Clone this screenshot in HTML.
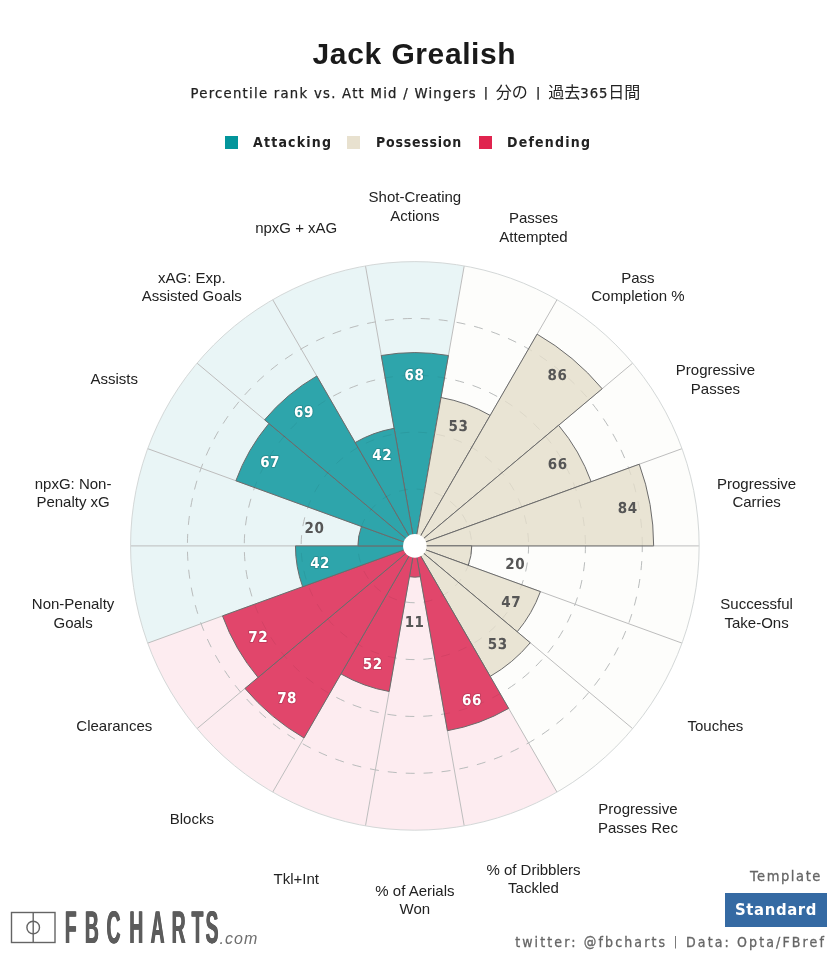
<!DOCTYPE html>
<html lang="en"><head><meta charset="utf-8"><title>Jack Grealish</title>
<style>
html,body{margin:0;padding:0;background:#fff;}
body{width:833px;height:957px;position:relative;overflow:hidden;font-family:"DejaVu Sans","Noto Sans CJK JP",sans-serif;}
.title{position:absolute;left:-2.1px;width:833px;top:34.1px;text-align:center;font:bold 30px/40px "Liberation Sans",sans-serif;letter-spacing:0.6px;word-spacing:0.75px;color:#1a1a1a;}
.sub{position:absolute;left:-1.1px;width:833px;top:83px;text-align:center;font-family:"DejaVu Sans Condensed","Noto Sans CJK JP",sans-serif;font-size:14.7px;line-height:20px;letter-spacing:1.27px;color:#222;-webkit-text-stroke:0.25px #222;white-space:nowrap;}
.leg{position:absolute;top:132px;height:20px;line-height:20px;font-family:"DejaVu Sans Condensed",sans-serif;font-weight:bold;font-size:14px;letter-spacing:1.2px;color:#222;white-space:nowrap;}
.sq{position:absolute;width:13px;height:13px;top:136px;}
svg text.v{font:bold 15px "DejaVu Sans Condensed",sans-serif;letter-spacing:0.55px;text-rendering:geometricPrecision;}
svg text.w{stroke:#000;stroke-opacity:0.13;stroke-width:2px;paint-order:stroke;stroke-linejoin:round;}
svg text.l{font:15px "Liberation Sans",sans-serif;fill:#222;}
svg text.fb{font:bold 45.8px "Liberation Sans",sans-serif;fill:#5c5c5c;text-rendering:geometricPrecision;text-shadow:0.9px 0 0 #5c5c5c,-0.9px 0 0 #5c5c5c;}
.com{position:absolute;left:219.6px;top:928.3px;font:italic 16px/22px "Liberation Sans",sans-serif;letter-spacing:1px;color:#6e6e6e;}
.bar{font-size:11.5px;font-weight:bold;vertical-align:1.2px;margin:0 0.5px;}
.cj{font-size:16px;letter-spacing:0;-webkit-text-stroke:0;}
.dg{letter-spacing:0.9px;}
.tpl{position:absolute;right:11px;top:866px;font-family:"DejaVu Sans Condensed",sans-serif;font-size:14.5px;line-height:20px;letter-spacing:1.6px;color:#666;-webkit-text-stroke:0.3px #666;}
.btn{position:absolute;left:725px;top:893px;width:102px;height:34px;background:#356aa3;color:#fff;font-family:"DejaVu Sans Condensed",sans-serif;font-weight:bold;font-size:16.5px;line-height:34px;text-align:center;letter-spacing:0.63px;}
.foot{position:absolute;right:7px;top:932px;font-family:"DejaVu Sans Condensed",sans-serif;font-size:14px;line-height:20px;letter-spacing:2.12px;color:#666;-webkit-text-stroke:0.3px #666;white-space:nowrap;}
</style></head><body>
<svg width="833" height="957" viewBox="0 0 833 957" style="position:absolute;left:0;top:0">
<path d="M414.85,545.90L365.48,265.92A284.30,284.30 0 0 1 464.22,265.92Z" fill="#e9f5f6"/>
<path d="M414.85,545.90L464.22,265.92A284.30,284.30 0 0 1 557.00,299.69Z" fill="#fdfdfb"/>
<path d="M414.85,545.90L557.00,299.69A284.30,284.30 0 0 1 632.64,363.16Z" fill="#fdfdfb"/>
<path d="M414.85,545.90L632.64,363.16A284.30,284.30 0 0 1 682.00,448.66Z" fill="#fdfdfb"/>
<path d="M414.85,545.90L682.00,448.66A284.30,284.30 0 0 1 699.15,545.90Z" fill="#fdfdfb"/>
<path d="M414.85,545.90L699.15,545.90A284.30,284.30 0 0 1 682.00,643.14Z" fill="#fdfdfb"/>
<path d="M414.85,545.90L682.00,643.14A284.30,284.30 0 0 1 632.64,728.64Z" fill="#fdfdfb"/>
<path d="M414.85,545.90L632.64,728.64A284.30,284.30 0 0 1 557.00,792.11Z" fill="#fdfdfb"/>
<path d="M414.85,545.90L557.00,792.11A284.30,284.30 0 0 1 464.22,825.88Z" fill="#fdecf0"/>
<path d="M414.85,545.90L464.22,825.88A284.30,284.30 0 0 1 365.48,825.88Z" fill="#fdecf0"/>
<path d="M414.85,545.90L365.48,825.88A284.30,284.30 0 0 1 272.70,792.11Z" fill="#fdecf0"/>
<path d="M414.85,545.90L272.70,792.11A284.30,284.30 0 0 1 197.06,728.64Z" fill="#fdecf0"/>
<path d="M414.85,545.90L197.06,728.64A284.30,284.30 0 0 1 147.70,643.14Z" fill="#fdecf0"/>
<path d="M414.85,545.90L147.70,643.14A284.30,284.30 0 0 1 130.55,545.90Z" fill="#e9f5f6"/>
<path d="M414.85,545.90L130.55,545.90A284.30,284.30 0 0 1 147.70,448.66Z" fill="#e9f5f6"/>
<path d="M414.85,545.90L147.70,448.66A284.30,284.30 0 0 1 197.06,363.16Z" fill="#e9f5f6"/>
<path d="M414.85,545.90L197.06,363.16A284.30,284.30 0 0 1 272.70,299.69Z" fill="#e9f5f6"/>
<path d="M414.85,545.90L272.70,299.69A284.30,284.30 0 0 1 365.48,265.92Z" fill="#e9f5f6"/>
<line x1="414.85" y1="545.9" x2="365.48" y2="265.92" stroke="#bdbdbd" stroke-width="1"/>
<line x1="414.85" y1="545.9" x2="464.22" y2="265.92" stroke="#bdbdbd" stroke-width="1"/>
<line x1="414.85" y1="545.9" x2="557.00" y2="299.69" stroke="#bdbdbd" stroke-width="1"/>
<line x1="414.85" y1="545.9" x2="632.64" y2="363.16" stroke="#bdbdbd" stroke-width="1"/>
<line x1="414.85" y1="545.9" x2="682.00" y2="448.66" stroke="#bdbdbd" stroke-width="1"/>
<line x1="414.85" y1="545.9" x2="699.15" y2="545.90" stroke="#bdbdbd" stroke-width="1"/>
<line x1="414.85" y1="545.9" x2="682.00" y2="643.14" stroke="#bdbdbd" stroke-width="1"/>
<line x1="414.85" y1="545.9" x2="632.64" y2="728.64" stroke="#bdbdbd" stroke-width="1"/>
<line x1="414.85" y1="545.9" x2="557.00" y2="792.11" stroke="#bdbdbd" stroke-width="1"/>
<line x1="414.85" y1="545.9" x2="464.22" y2="825.88" stroke="#bdbdbd" stroke-width="1"/>
<line x1="414.85" y1="545.9" x2="365.48" y2="825.88" stroke="#bdbdbd" stroke-width="1"/>
<line x1="414.85" y1="545.9" x2="272.70" y2="792.11" stroke="#bdbdbd" stroke-width="1"/>
<line x1="414.85" y1="545.9" x2="197.06" y2="728.64" stroke="#bdbdbd" stroke-width="1"/>
<line x1="414.85" y1="545.9" x2="147.70" y2="643.14" stroke="#bdbdbd" stroke-width="1"/>
<line x1="414.85" y1="545.9" x2="130.55" y2="545.90" stroke="#bdbdbd" stroke-width="1"/>
<line x1="414.85" y1="545.9" x2="147.70" y2="448.66" stroke="#bdbdbd" stroke-width="1"/>
<line x1="414.85" y1="545.9" x2="197.06" y2="363.16" stroke="#bdbdbd" stroke-width="1"/>
<line x1="414.85" y1="545.9" x2="272.70" y2="299.69" stroke="#bdbdbd" stroke-width="1"/>
<circle cx="414.85" cy="545.9" r="284.3" fill="none" stroke="#d4d8d8" stroke-width="1"/>
<circle cx="414.85" cy="545.9" r="56.86" fill="none" stroke="#c6c9c9" stroke-width="1" stroke-dasharray="9 9" stroke-dashoffset="0.6"/>
<circle cx="414.85" cy="545.9" r="113.72" fill="none" stroke="#c6c9c9" stroke-width="1" stroke-dasharray="9 9" stroke-dashoffset="1.2"/>
<circle cx="414.85" cy="545.9" r="170.58" fill="none" stroke="#c6c9c9" stroke-width="1" stroke-dasharray="9 9" stroke-dashoffset="1.6"/>
<circle cx="414.85" cy="545.9" r="227.44" fill="none" stroke="#c6c9c9" stroke-width="1" stroke-dasharray="9 9" stroke-dashoffset="2.7"/>
<path d="M414.85,545.90L381.28,355.51A193.32,193.32 0 0 1 448.42,355.51Z" fill="#2ea5ab" stroke="#6b6b6b" stroke-width="1" stroke-linejoin="round"/>
<path d="M414.85,545.90L441.02,397.51A150.68,150.68 0 0 1 490.19,415.41Z" fill="#e9e4d4" stroke="#6b6b6b" stroke-width="1" stroke-linejoin="round"/>
<path d="M414.85,545.90L537.10,334.16A244.50,244.50 0 0 1 602.15,388.74Z" fill="#e9e4d4" stroke="#6b6b6b" stroke-width="1" stroke-linejoin="round"/>
<path d="M414.85,545.90L558.59,425.29A187.64,187.64 0 0 1 591.17,481.72Z" fill="#e9e4d4" stroke="#6b6b6b" stroke-width="1" stroke-linejoin="round"/>
<path d="M414.85,545.90L639.26,464.22A238.81,238.81 0 0 1 653.66,545.90Z" fill="#e9e4d4" stroke="#6b6b6b" stroke-width="1" stroke-linejoin="round"/>
<path d="M414.85,545.90L471.71,545.90A56.86,56.86 0 0 1 468.28,565.35Z" fill="#e9e4d4" stroke="#6b6b6b" stroke-width="1" stroke-linejoin="round"/>
<path d="M414.85,545.90L540.41,591.60A133.62,133.62 0 0 1 517.21,631.79Z" fill="#e9e4d4" stroke="#6b6b6b" stroke-width="1" stroke-linejoin="round"/>
<path d="M414.85,545.90L530.28,642.75A150.68,150.68 0 0 1 490.19,676.39Z" fill="#e9e4d4" stroke="#6b6b6b" stroke-width="1" stroke-linejoin="round"/>
<path d="M414.85,545.90L508.67,708.40A187.64,187.64 0 0 1 447.43,730.69Z" fill="#e1466b" stroke="#6b6b6b" stroke-width="1" stroke-linejoin="round"/>
<path d="M414.85,545.90L420.28,576.70A31.27,31.27 0 0 1 409.42,576.70Z" fill="#e1466b" stroke="#6b6b6b" stroke-width="1" stroke-linejoin="round"/>
<path d="M414.85,545.90L389.18,691.49A147.84,147.84 0 0 1 340.93,673.93Z" fill="#e1466b" stroke="#6b6b6b" stroke-width="1" stroke-linejoin="round"/>
<path d="M414.85,545.90L303.97,737.94A221.75,221.75 0 0 1 244.98,688.44Z" fill="#e1466b" stroke="#6b6b6b" stroke-width="1" stroke-linejoin="round"/>
<path d="M414.85,545.90L258.04,677.48A204.70,204.70 0 0 1 222.50,615.91Z" fill="#e1466b" stroke="#6b6b6b" stroke-width="1" stroke-linejoin="round"/>
<path d="M414.85,545.90L302.65,586.74A119.41,119.41 0 0 1 295.44,545.90Z" fill="#2ea5ab" stroke="#6b6b6b" stroke-width="1" stroke-linejoin="round"/>
<path d="M414.85,545.90L357.99,545.90A56.86,56.86 0 0 1 361.42,526.45Z" fill="#2ea5ab" stroke="#6b6b6b" stroke-width="1" stroke-linejoin="round"/>
<path d="M414.85,545.90L235.86,480.75A190.48,190.48 0 0 1 268.93,423.46Z" fill="#2ea5ab" stroke="#6b6b6b" stroke-width="1" stroke-linejoin="round"/>
<path d="M414.85,545.90L264.58,419.81A196.17,196.17 0 0 1 316.77,376.01Z" fill="#2ea5ab" stroke="#6b6b6b" stroke-width="1" stroke-linejoin="round"/>
<path d="M414.85,545.90L355.15,442.49A119.41,119.41 0 0 1 394.12,428.31Z" fill="#2ea5ab" stroke="#6b6b6b" stroke-width="1" stroke-linejoin="round"/>
<circle cx="414.85" cy="545.9" r="56.86" fill="none" stroke="#000" stroke-opacity="0.06" stroke-width="1" stroke-dasharray="9 9" stroke-dashoffset="0.6"/>
<circle cx="414.85" cy="545.9" r="113.72" fill="none" stroke="#000" stroke-opacity="0.06" stroke-width="1" stroke-dasharray="9 9" stroke-dashoffset="1.2"/>
<circle cx="414.85" cy="545.9" r="170.58" fill="none" stroke="#000" stroke-opacity="0.06" stroke-width="1" stroke-dasharray="9 9" stroke-dashoffset="1.6"/>
<circle cx="414.85" cy="545.9" r="227.44" fill="none" stroke="#000" stroke-opacity="0.06" stroke-width="1" stroke-dasharray="9 9" stroke-dashoffset="2.7"/>
<circle cx="414.85" cy="545.9" r="11.8" fill="#fff"/>
<text x="414.5" y="380.1" text-anchor="middle" class="v w" fill="#fff">68</text>
<text x="458.5" y="430.5" text-anchor="middle" class="v" fill="#565656">53</text>
<text x="557.5" y="380.0" text-anchor="middle" class="v" fill="#565656">86</text>
<text x="557.8" y="469.0" text-anchor="middle" class="v" fill="#565656">66</text>
<text x="627.8" y="513.1" text-anchor="middle" class="v" fill="#565656">84</text>
<text x="515.3" y="569.2" text-anchor="middle" class="v" fill="#565656">20</text>
<text x="511.2" y="607.3" text-anchor="middle" class="v" fill="#565656">47</text>
<text x="497.8" y="648.7" text-anchor="middle" class="v" fill="#565656">53</text>
<text x="471.9" y="704.7" text-anchor="middle" class="v w" fill="#fff">66</text>
<text x="414.6" y="627.2" text-anchor="middle" class="v" fill="#565656">11</text>
<text x="372.8" y="668.7" text-anchor="middle" class="v w" fill="#fff">52</text>
<text x="287.1" y="703.1" text-anchor="middle" class="v w" fill="#fff">78</text>
<text x="258.2" y="641.7" text-anchor="middle" class="v w" fill="#fff">72</text>
<text x="320.1" y="568.0" text-anchor="middle" class="v w" fill="#fff">42</text>
<text x="314.5" y="532.8" text-anchor="middle" class="v" fill="#565656">20</text>
<text x="270.1" y="467.2" text-anchor="middle" class="v w" fill="#fff">67</text>
<text x="304.0" y="416.7" text-anchor="middle" class="v w" fill="#fff">69</text>
<text x="382.3" y="460.0" text-anchor="middle" class="v w" fill="#fff">42</text>
<text x="414.9" y="202" text-anchor="middle" class="l">Shot-Creating</text>
<text x="414.9" y="221" text-anchor="middle" class="l">Actions</text>
<text x="533.5" y="223" text-anchor="middle" class="l">Passes</text>
<text x="533.5" y="242" text-anchor="middle" class="l">Attempted</text>
<text x="637.9" y="283" text-anchor="middle" class="l">Pass</text>
<text x="637.9" y="301" text-anchor="middle" class="l">Completion %</text>
<text x="715.4" y="375" text-anchor="middle" class="l">Progressive</text>
<text x="715.4" y="394" text-anchor="middle" class="l">Passes</text>
<text x="756.6" y="489" text-anchor="middle" class="l">Progressive</text>
<text x="756.6" y="507" text-anchor="middle" class="l">Carries</text>
<text x="756.6" y="609" text-anchor="middle" class="l">Successful</text>
<text x="756.6" y="628" text-anchor="middle" class="l">Take-Ons</text>
<text x="715.4" y="731" text-anchor="middle" class="l">Touches</text>
<text x="637.9" y="814" text-anchor="middle" class="l">Progressive</text>
<text x="637.9" y="833" text-anchor="middle" class="l">Passes Rec</text>
<text x="533.5" y="875" text-anchor="middle" class="l">% of Dribblers</text>
<text x="533.5" y="893" text-anchor="middle" class="l">Tackled</text>
<text x="414.9" y="896" text-anchor="middle" class="l">% of Aerials</text>
<text x="414.9" y="914" text-anchor="middle" class="l">Won</text>
<text x="296.2" y="884" text-anchor="middle" class="l">Tkl+Int</text>
<text x="191.8" y="824" text-anchor="middle" class="l">Blocks</text>
<text x="114.3" y="731" text-anchor="middle" class="l">Clearances</text>
<text x="73.1" y="609" text-anchor="middle" class="l">Non-Penalty</text>
<text x="73.1" y="628" text-anchor="middle" class="l">Goals</text>
<text x="73.1" y="489" text-anchor="middle" class="l">npxG: Non-</text>
<text x="73.1" y="507" text-anchor="middle" class="l">Penalty xG</text>
<text x="114.3" y="384" text-anchor="middle" class="l">Assists</text>
<text x="191.8" y="283" text-anchor="middle" class="l">xAG: Exp.</text>
<text x="191.8" y="301" text-anchor="middle" class="l">Assisted Goals</text>
<text x="296.2" y="233" text-anchor="middle" class="l">npxG + xAG</text>
<rect x="11.5" y="912.5" width="43.5" height="30" fill="none" stroke="#646464" stroke-width="1.4"/>
<line x1="33.2" y1="912.5" x2="33.2" y2="942.5" stroke="#646464" stroke-width="1.4"/>
<circle cx="33.2" cy="927.5" r="6.3" fill="none" stroke="#646464" stroke-width="1.4"/>
<text class="fb" transform="translate(0,943.4) scale(0.42,1)" x="154.3 202.3 253.8 307.9 358.8 408.8 456.0 489.3" y="0">FBCHARTS</text>
</svg>
<div class="title">Jack Grealish</div>
<div class="sub">Percentile rank vs. Att Mid / Wingers <span class="bar" style="margin:0 1.1px 0 1.6px">|</span> <span class="cj">分の</span> <span class="bar" style="margin:0 1.6px 0 3.1px">|</span> <span class="cj">過去</span><span class="dg">365</span><span class="cj">日間</span></div>
<span class="sq" style="left:224.5px;background:#03959b"></span><span class="leg" id="l1" style="left:253px">Attacking</span>
<span class="sq" style="left:347px;background:#e8e1cf"></span><span class="leg" id="l2" style="left:376px;letter-spacing:0.75px">Possession</span>
<span class="sq" style="left:478.5px;background:#e0244e"></span><span class="leg" id="l3" style="left:507px">Defending</span>
<div class="com">.com</div>
<div class="tpl">Template</div>
<div class="btn">Standard</div>
<div class="foot">twitter: @fbcharts <span class="bar" style="font-weight:normal;-webkit-text-stroke:0">|</span> Data: Opta/FBref</div>
</body></html>
